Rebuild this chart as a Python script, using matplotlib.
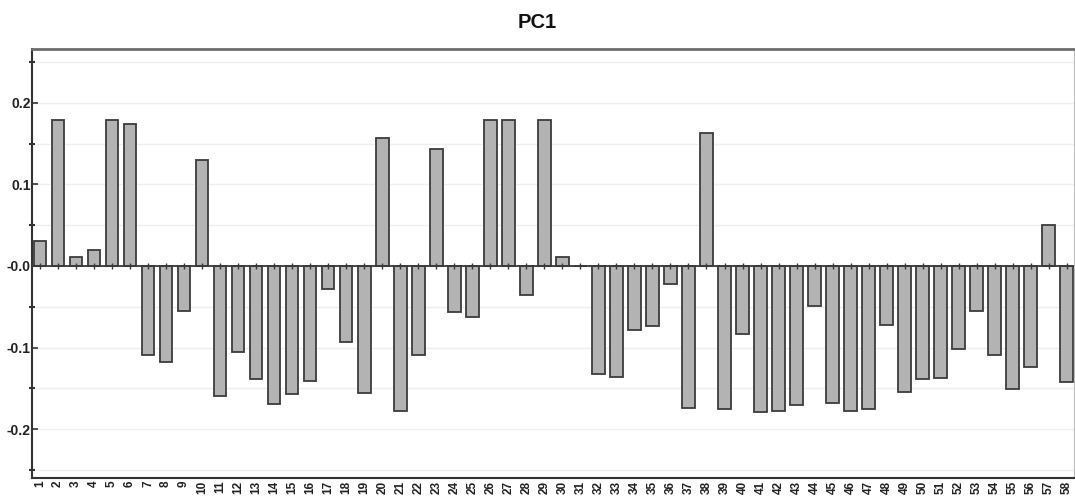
#!/usr/bin/env python
# coding: utf-8

import matplotlib
matplotlib.use("Agg")
import matplotlib.pyplot as plt
import numpy as np

# PC1 loadings, one per variable
variables = list(range(1, 59))
loadings = [
    0.031, 0.179, 0.011, 0.020, 0.179, 0.174, -0.109, -0.118, -0.055, 0.130,
    -0.160, -0.105, -0.139, -0.169, -0.157, -0.141, -0.028, -0.093, -0.156, 0.157,
    -0.178, -0.109, 0.144, -0.056, -0.062, 0.179, 0.179, -0.036, 0.179, 0.011,
    0.0, -0.132, -0.136, -0.079, -0.074, -0.022, -0.174, 0.163, -0.176, -0.084,
    -0.179, -0.178, -0.170, -0.049, -0.168, -0.178, -0.176, -0.072, -0.154, -0.139,
    -0.137, -0.102, -0.055, -0.109, -0.151, -0.124, 0.050, -0.142,
]
y_major = [-0.2, -0.1, 0.0, 0.1, 0.2]
y_labels = ["-0.2", "-0.1", "-0.0", "0.1", "0.2"]
y_minor = [-0.25, -0.15, -0.05, 0.05, 0.15, 0.25]
title = "PC1"

plt.rcParams['font.family'] = ['Liberation Sans', 'DejaVu Sans']

fig = plt.figure(figsize=(10.75, 4.97), dpi=100)
ax = fig.add_axes([32 / 1075, 19 / 497, 1042 / 1075, 429 / 497])

# faint grid every 0.05
for v in y_major + y_minor:
    ax.axhline(v, color='#efefef', lw=1, zorder=0)

ax.bar(variables, loadings, width=0.7, color='#b3b3b3',
       edgecolor='#3c3c3c', linewidth=1.3, zorder=2)

# zero line with a small tick at every category
ax.axhline(0, color='#3a3a3a', lw=1.3, zorder=3)
ax.plot(variables, [0] * len(variables), ls='none', marker='|',
        markersize=5, color='#3a3a3a', mew=1, zorder=3)

ax.set_xlim(0.56, 58.4)
ax.set_ylim(-0.26, 0.266)

ax.set_yticks(y_major)
ax.set_yticklabels(y_labels, fontsize=10, fontweight='bold', color='#222222')
ax.set_yticks(y_minor, minor=True)
ax.tick_params(axis='y', which='major', direction='in', length=4, width=1.2,
               pad=1, color='#333333')
ax.tick_params(axis='y', which='minor', direction='inout', length=4, width=1.5,
               color='#333333')

ax.set_xticks(variables)
ax.set_xticklabels([str(v) for v in variables], rotation=90, fontsize=8.5,
                   fontweight='bold', color='#222222')
ax.tick_params(axis='x', length=0, pad=2)

ax.spines['top'].set_color('#6e6e6e')
ax.spines['top'].set_linewidth(2)
ax.spines['left'].set_color('#333333')
ax.spines['left'].set_linewidth(1.5)
ax.spines['bottom'].set_color('#333333')
ax.spines['bottom'].set_linewidth(1.5)
ax.spines['right'].set_color('#bbbbbb')
ax.spines['right'].set_linewidth(0.8)

fig.text(537 / 1075, 1 - 22 / 497, title, ha='center', va='center',
         fontsize=14.5, fontweight='bold', color='#111111')

fig.savefig("out.png", dpi=100)
